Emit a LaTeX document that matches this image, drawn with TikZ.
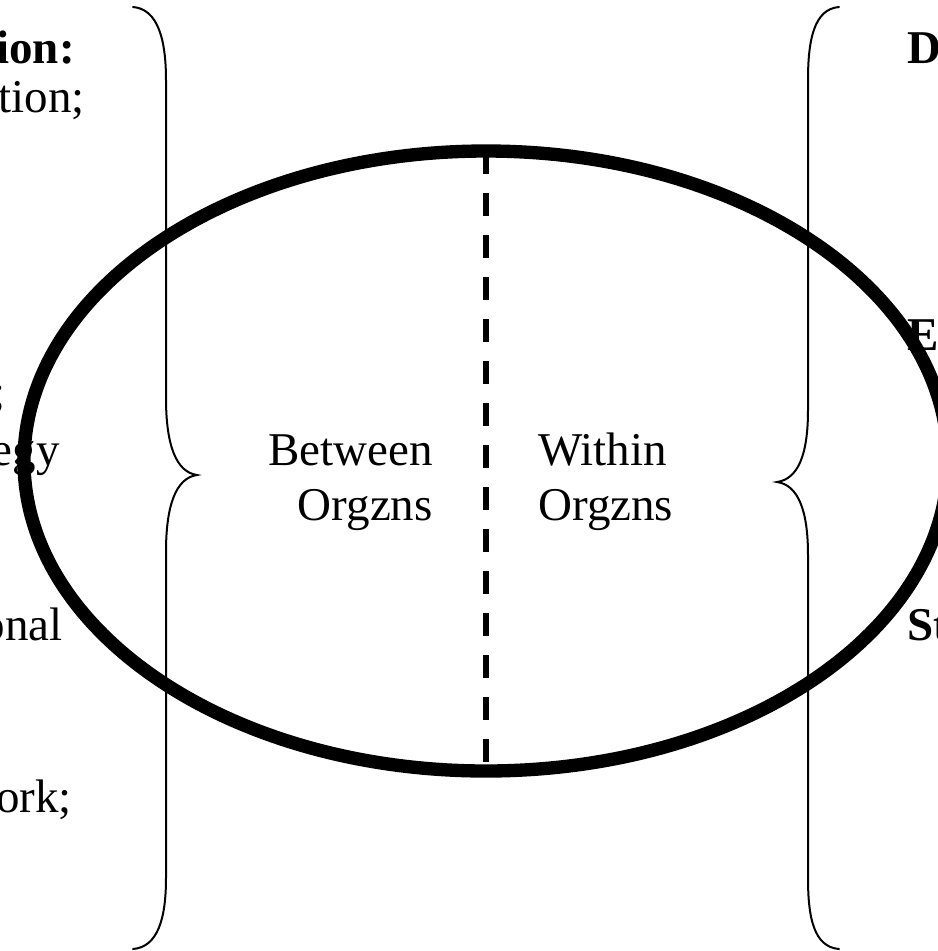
\documentclass[tikz,border=0pt]{standalone}
\usepackage{fontspec}
\setmainfont{Liberation Serif}
\begin{document}
\begin{tikzpicture}[x=0.75pt,y=-0.75pt,
  txt/.style={inner sep=0pt,font=\fontsize{35.25pt}{41.25pt}\selectfont},
  btxt/.style={txt,font=\fontsize{35.25pt}{41.25pt}\selectfont\bfseries},
  bracket/.style={line width=1.5pt,line cap=round,line join=miter},
  oval/.style={line width=10pt},
  divider/.style={line width=4.5pt,dash pattern=on 17.25pt off 14.25pt}]
\useasboundingbox (0,0) rectangle (938,951);

% left column (running off the page)
\node[btxt,anchor=base east] (l1) at (75,63) {ion:};
\node[txt,anchor=base east] (l2) at (85,112) {tion;};
\node[txt,anchor=base east] (l3) at (6,407) {;};
\node[txt,anchor=base east] (l4) at (60,465) {egy};
\node[txt,anchor=base east] (l5) at (63,640) {onal};
\node[txt,anchor=base east] (l6) at (72,812) {ork;};

% right column (running off the page)
\node[btxt,anchor=base west] (r1) at (907,63) {D};
\node[btxt,anchor=base west] (r2) at (907,350) {E};
\node[btxt,anchor=base west] (r3) at (907,640) {St};

% left brace
\draw[bracket] (133,7) .. controls (158,9) and (166,40) .. (166,80)
  -- (166,398) .. controls (166,445) and (176,472) .. (197,475)
  .. controls (176,478) and (166,505) .. (166,552)
  -- (166,878) .. controls (166,918) and (158,947) .. (133,949);

% right brace
\draw[bracket] (839,7) .. controls (814,9) and (808,40) .. (808,80)
  -- (808,410) .. controls (808,455) and (798,479) .. (777,482)
  .. controls (798,485) and (808,510) .. (808,555)
  -- (808,878) .. controls (808,918) and (814,947) .. (839,949);

% the oval and its divider
\coordinate (c) at (486,461);
\coordinate (top) at (486,151);
\coordinate (bot) at (486,771);
\draw[divider] (top) -- (bot);
\draw[oval] (c) ellipse [x radius=462, y radius=310];

% two-line labels: the base anchor sits on the second line
\node[txt,align=right,anchor=base east] (between) at (433,520) {Between\\Orgzns};
\node[txt,align=left,anchor=base west] (within) at (538,520) {Within\\Orgzns};
\end{tikzpicture}
\end{document}
